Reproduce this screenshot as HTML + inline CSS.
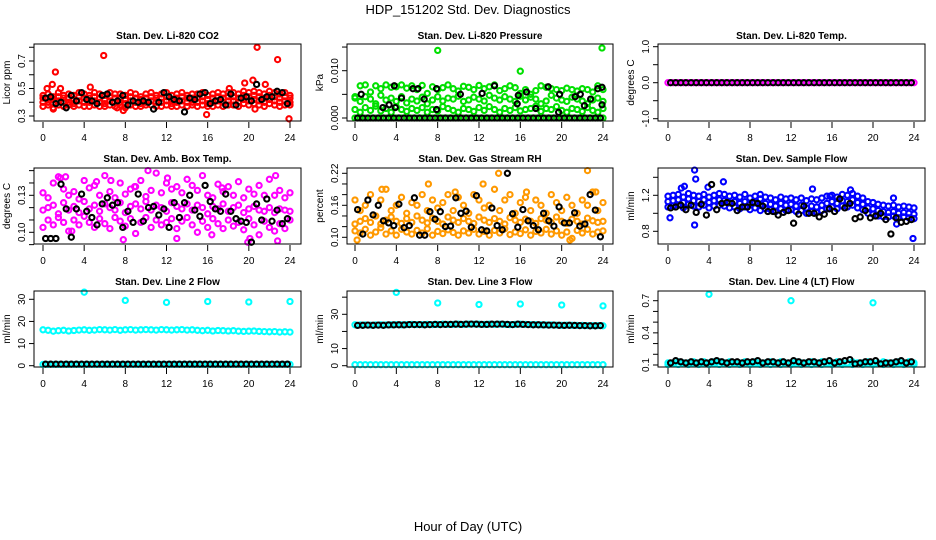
<!DOCTYPE html>
<html><head><meta charset="utf-8">
<style>
html,body{margin:0;padding:0;background:#fff;}
svg{display:block;font-family:"Liberation Sans",Arial,sans-serif;}
</style></head>
<body>
<svg id="chart" width="936" height="540" viewBox="0 0 936 540">
<text x="468" y="14" text-anchor="middle" font-size="13">HDP_151202  Std. Dev. Diagnostics</text>
<text x="468" y="531" text-anchor="middle" font-size="13">Hour of Day (UTC)</text>
</svg>
<script>
// ---------- data ----------
const xTicks = [0,4,8,12,16,20,24];
// Panel 1 CO2
const co2RedA = [0.45,0.46,0.44,0.47,0.45,0.46,0.45,0.47,0.46,0.45,0.47,0.46,0.45,0.47,0.46,0.46,0.45,0.47,0.46,0.44,0.46,0.47,0.45,0.46,0.47,0.45,0.46,0.47,0.45,0.46,0.46,0.47,0.45,0.46,0.47,0.46,0.47,0.47,0.46,0.48,0.47,0.48,0.47,0.46,0.48,0.47,0.46,0.47,0.45];
const co2RedB = [0.43,0.43,0.42,0.44,0.43,0.43,0.42,0.44,0.43,0.43,0.44,0.43,0.42,0.44,0.43,0.43,0.42,0.44,0.43,0.42,0.43,0.44,0.43,0.43,0.44,0.42,0.43,0.44,0.43,0.43,0.43,0.44,0.42,0.43,0.44,0.43,0.44,0.44,0.43,0.45,0.44,0.45,0.44,0.43,0.45,0.44,0.43,0.44,0.43];
const co2RedC = [0.40,0.40,0.39,0.41,0.40,0.40,0.39,0.41,0.40,0.40,0.41,0.40,0.39,0.41,0.40,0.40,0.39,0.41,0.40,0.39,0.40,0.41,0.40,0.40,0.41,0.39,0.40,0.41,0.40,0.40,0.40,0.41,0.39,0.40,0.41,0.40,0.41,0.41,0.40,0.42,0.41,0.42,0.41,0.40,0.42,0.41,0.40,0.41,0.40];
const co2RedD = [0.37,0.38,0.36,0.38,0.37,0.38,0.37,0.38,0.37,0.37,0.38,0.37,0.37,0.38,0.37,0.38,0.36,0.38,0.37,0.37,0.38,0.38,0.37,0.37,0.38,0.37,0.37,0.38,0.37,0.38,0.37,0.38,0.37,0.37,0.38,0.37,0.38,0.38,0.37,0.39,0.38,0.39,0.38,0.37,0.39,0.38,0.37,0.38,0.38];
const co2RedOut = [[1.2,0.62],[0.9,0.53],[5.9,0.74],[20.8,0.80],[22.8,0.71],[23.9,0.28],[15.9,0.31],[20.4,0.56],[19.6,0.54],[20.6,0.35],[7.8,0.34],[1.0,0.35],[4.6,0.51],[0.4,0.50],[18.1,0.50],[21.6,0.53],[1.7,0.50],[7.2,0.36]];
const co2Black = [0.43,0.44,0.39,0.40,0.36,0.45,0.41,0.47,0.42,0.41,0.39,0.45,0.46,0.40,0.41,0.45,0.38,0.41,0.40,0.41,0.40,0.35,0.40,0.47,0.44,0.42,0.41,0.33,0.43,0.42,0.46,0.47,0.39,0.41,0.42,0.38,0.46,0.38,0.43,0.44,0.41,0.53,0.42,0.44,0.44,0.48,0.47,0.39];
// Panel 2 Pressure
const prZero = [0,0,0,0,0,0,0,0,0,0,0,0,0,0,0,0,0,0,0,0,0,0,0,0,0,0,0,0,0,0,0,0,0,0,0,0,0,0,0,0,0,0,0,0,0,0,0,0,0];
const prGreenA = [0.0045,0.0068,0.0070,0.0055,0.0068,0.0062,0.0070,0.0065,0.0066,0.0070,0.0063,0.0068,0.0060,0.0069,0.0052,0.0066,0.0060,0.0064,0.0070,0.0062,0.0057,0.0067,0.0065,0.0060,0.0069,0.0062,0.0066,0.0070,0.0058,0.0062,0.0068,0.0064,0.0052,0.0060,0.0050,0.0058,0.0068,0.0065,0.0062,0.0060,0.0058,0.0063,0.0060,0.0057,0.0062,0.0060,0.0055,0.0068,0.0060];
const prGreenB = [0.0042,0.0035,0.0045,0.0040,0.0030,0.0048,0.0038,0.0042,0.0035,0.0045,0.0032,0.0040,0.0036,0.0044,0.0030,0.0038,0.0045,0.0036,0.0042,0.0040,0.0046,0.0035,0.0038,0.0044,0.0040,0.0036,0.0048,0.0042,0.0038,0.0045,0.0040,0.0035,0.0046,0.0038,0.0044,0.0040,0.0030,0.0036,0.0048,0.0042,0.0038,0.0035,0.0044,0.0040,0.0036,0.0030,0.0038,0.0042,0.0035];
const prGreenC = [0.0018,0.0012,0.0022,0.0016,0.0025,0.0015,0.0020,0.0012,0.0024,0.0018,0.0014,0.0020,0.0016,0.0022,0.0012,0.0018,0.0015,0.0024,0.0020,0.0016,0.0012,0.0020,0.0018,0.0014,0.0022,0.0016,0.0024,0.0018,0.0012,0.0020,0.0016,0.0022,0.0015,0.0018,0.0020,0.0025,0.0014,0.0020,0.0018,0.0024,0.0016,0.0012,0.0020,0.0018,0.0014,0.0022,0.0016,0.0012,0.0020];
const prGreenOut = [[8.0,0.0143],[23.9,0.0148],[16.0,0.0099]];
const prBlackZero = [0,0,0,0,0,0,0,0,0,0,0,0,0,0,0,0,0,0,0,0,0,0,0,0,0,0,0,0,0,0,0,0,0,0,0,0,0,0,0,0,0,0,0,0,0,0,0,0];
const prBlackPts = [[0.6,0.0050],[2.7,0.0022],[3.3,0.0028],[3.8,0.0068],[3.9,0.0022],[4.5,0.0042],[5.6,0.0062],[6.1,0.0062],[6.7,0.0040],[7.9,0.0018],[7.9,0.0062],[10.2,0.0050],[12.3,0.0052],[13.5,0.0068],[15.7,0.0030],[15.8,0.0048],[16.6,0.0055],[17.5,0.0020],[18.7,0.0066],[19.7,0.0012],[19.8,0.0050],[21.3,0.0045],[21.8,0.0050],[22.2,0.0026],[22.8,0.0040],[23.5,0.0062],[23.9,0.0065],[23.9,0.0028]];
// Panel 3 Temp
const tmpMag = [0,0,0,0,0,0,0,0,0,0,0,0,0,0,0,0,0,0,0,0,0,0,0,0,0,0,0,0,0,0,0,0,0,0,0,0,0,0,0,0,0,0,0,0,0,0,0,0,0];
const tmpBlack = [0,0,0,0,0,0,0,0,0,0,0,0,0,0,0,0,0,0,0,0,0,0,0,0,0,0,0,0,0,0,0,0,0,0,0,0,0,0,0,0,0,0,0,0,0,0,0,0];
// Panel 4 Amb Box Temp
const ambA = [0.132,0.128,0.140,0.145,0.135,0.130,0.133,0.127,0.142,0.136,0.138,0.130,0.146,0.133,0.128,0.140,0.131,0.135,0.137,0.142,0.129,0.134,0.148,0.132,0.140,0.135,0.137,0.132,0.143,0.138,0.134,0.146,0.130,0.128,0.139,0.133,0.137,0.130,0.141,0.128,0.135,0.131,0.138,0.130,0.143,0.130,0.134,0.128,0.132];
const ambB = [0.118,0.120,0.122,0.115,0.124,0.118,0.121,0.116,0.125,0.119,0.122,0.117,0.123,0.120,0.118,0.124,0.116,0.121,0.123,0.119,0.125,0.118,0.122,0.120,0.117,0.124,0.121,0.119,0.123,0.118,0.122,0.120,0.115,0.121,0.119,0.123,0.117,0.120,0.122,0.116,0.119,0.121,0.118,0.117,0.120,0.116,0.119,0.118,0.117];
const ambC = [0.104,0.110,0.106,0.112,0.108,0.101,0.110,0.106,0.113,0.108,0.104,0.111,0.107,0.103,0.112,0.109,0.105,0.111,0.099,0.108,0.112,0.104,0.110,0.106,0.108,0.111,0.103,0.109,0.112,0.106,0.100,0.109,0.104,0.111,0.107,0.103,0.110,0.105,0.108,0.102,0.111,0.106,0.098,0.109,0.104,0.101,0.107,0.103,0.110];
const ambMagOut = [[1.7,0.144],[2.2,0.145],[5.2,0.141],[6.6,0.142],[8.9,0.137],[10.2,0.150],[12.1,0.144],[17.4,0.136],[22.6,0.146],[7.8,0.094],[13.0,0.095],[22.8,0.093],[19.9,0.092],[16.4,0.098],[20.1,0.095],[2.8,0.101]];
const ambBlack = [0.095,0.095,0.095,0.139,0.119,0.096,0.119,0.131,0.117,0.112,0.106,0.123,0.128,0.122,0.124,0.104,0.117,0.108,0.131,0.109,0.120,0.121,0.114,0.119,0.104,0.124,0.112,0.124,0.130,0.118,0.113,0.138,0.125,0.119,0.117,0.131,0.117,0.111,0.109,0.108,0.092,0.123,0.110,0.127,0.109,0.118,0.107,0.111];
// Panel 5 Gas Stream RH
const rhA = [0.170,0.150,0.160,0.180,0.140,0.170,0.190,0.150,0.160,0.175,0.145,0.165,0.160,0.180,0.150,0.170,0.155,0.165,0.180,0.150,0.175,0.160,0.145,0.180,0.170,0.155,0.160,0.190,0.150,0.170,0.180,0.145,0.165,0.175,0.150,0.170,0.160,0.145,0.180,0.165,0.150,0.175,0.160,0.145,0.170,0.160,0.185,0.150,0.165];
const rhB = [0.125,0.130,0.135,0.128,0.140,0.125,0.132,0.138,0.130,0.126,0.135,0.128,0.140,0.132,0.127,0.136,0.130,0.125,0.138,0.132,0.128,0.135,0.130,0.126,0.138,0.132,0.128,0.135,0.130,0.125,0.137,0.132,0.128,0.134,0.130,0.126,0.135,0.132,0.128,0.138,0.130,0.126,0.134,0.130,0.125,0.136,0.131,0.128,0.130];
const rhC = [0.112,0.108,0.115,0.104,0.110,0.118,0.106,0.112,0.104,0.115,0.110,0.106,0.113,0.108,0.116,0.104,0.111,0.107,0.114,0.109,0.104,0.112,0.108,0.115,0.106,0.111,0.104,0.113,0.108,0.116,0.105,0.110,0.107,0.114,0.104,0.111,0.108,0.115,0.106,0.112,0.104,0.110,0.098,0.113,0.108,0.115,0.106,0.110,0.112];
const rhOrangeOut = [[2.6,0.19],[7.1,0.20],[12.4,0.20],[13.9,0.22],[22.5,0.225],[0.2,0.095],[20.8,0.095],[9.7,0.185],[16.6,0.185],[23.3,0.185]];
const rhBlack = [0.152,0.106,0.170,0.142,0.160,0.131,0.127,0.122,0.162,0.118,0.122,0.174,0.104,0.104,0.148,0.134,0.148,0.120,0.121,0.174,0.145,0.149,0.119,0.178,0.114,0.112,0.155,0.122,0.114,0.220,0.144,0.119,0.152,0.131,0.122,0.114,0.145,0.131,0.121,0.157,0.127,0.127,0.146,0.121,0.125,0.180,0.151,0.101];
// Panel 6 Sample Flow
const sfA = [1.19,1.20,1.21,1.18,1.22,1.20,1.19,1.21,1.18,1.20,1.22,1.21,1.19,1.20,1.18,1.21,1.17,1.19,1.16,1.18,1.17,1.15,1.18,1.16,1.17,1.15,1.17,1.14,1.16,1.15,1.17,1.19,1.20,1.18,1.21,1.20,1.22,1.19,1.17,1.13,1.12,1.10,1.09,1.08,1.09,1.07,1.08,1.07,1.06];
const sfB = [1.13,1.14,1.15,1.12,1.16,1.14,1.13,1.15,1.12,1.14,1.15,1.14,1.12,1.13,1.11,1.13,1.10,1.12,1.09,1.11,1.10,1.08,1.11,1.09,1.10,1.08,1.09,1.06,1.08,1.07,1.09,1.11,1.13,1.11,1.14,1.13,1.15,1.12,1.10,1.06,1.05,1.03,1.02,1.01,1.02,1.00,1.01,1.00,0.99];
const sfC = [1.07,1.08,1.09,1.06,1.10,1.08,1.07,1.09,1.06,1.08,1.09,1.08,1.06,1.07,1.05,1.07,1.04,1.06,1.03,1.05,1.04,1.02,1.05,1.03,1.04,1.02,1.03,1.00,1.02,1.01,1.03,1.05,1.07,1.05,1.08,1.07,1.09,1.06,1.04,1.00,0.99,0.97,0.96,0.96,0.97,0.95,0.96,0.95,0.94];
const sfBlueOut = [[2.6,1.48],[2.7,1.38],[5.4,1.35],[2.6,0.87],[0.2,0.95],[23.9,0.72],[22.0,1.17],[14.1,1.27],[3.9,1.29],[1.6,1.30],[1.3,1.28],[22.3,0.88],[17.8,1.26],[9.0,1.21],[15.8,1.19]];
const sfBlack = [1.06,1.07,1.09,1.04,1.09,1.01,1.10,0.98,1.32,1.04,1.11,1.12,1.11,1.03,1.07,1.07,1.12,1.11,1.08,1.02,1.02,0.98,1.01,1.03,0.89,0.99,1.08,1.00,1.00,0.96,0.99,1.05,1.02,1.16,1.06,1.11,0.94,0.96,1.03,0.95,0.97,1.00,0.93,0.77,0.95,0.90,0.91,0.93];
// Panel 7 Line 2 Flow
const l2Cyan = [16.2,16.0,15.6,15.8,16.0,15.7,15.9,16.1,16.2,16.0,16.1,16.3,16.2,16.1,16.3,16.0,16.2,16.3,16.1,16.2,16.3,16.2,16.1,16.3,16.2,16.1,16.2,16.3,16.1,16.2,16.0,15.8,16.0,15.7,15.9,15.8,15.7,15.8,15.6,15.5,15.6,15.7,15.5,15.4,15.3,15.4,15.2,15.3,15.2];
const l2CyanLow = [0.6,0.6,0.6,0.6,0.6,0.6,0.6,0.6,0.6,0.6,0.6,0.6,0.6,0.6,0.6,0.6,0.6,0.6,0.6,0.6,0.6,0.6,0.6,0.6,0.6,0.6,0.6,0.6,0.6,0.6,0.6,0.6,0.6,0.6,0.6,0.6,0.6,0.6,0.6,0.6,0.6,0.6,0.6,0.6,0.6,0.6,0.6,0.6,0.6];
const l2Black = [0.7,0.7,0.7,0.7,0.7,0.7,0.7,0.7,0.7,0.7,0.7,0.7,0.7,0.7,0.7,0.7,0.7,0.7,0.7,0.7,0.7,0.7,0.7,0.7,0.7,0.7,0.7,0.7,0.7,0.7,0.7,0.7,0.7,0.7,0.7,0.7,0.7,0.7,0.7,0.7,0.7,0.7,0.7,0.7,0.7,0.7,0.7,0.7];
const l2CyanOut = [[4,33.2],[8,29.5],[12,28.6],[16,29.0],[20,28.8],[24,29.0]];
// Panel 8 Line 3 Flow
const l3CyanLow = [0.6,0.6,0.6,0.6,0.6,0.6,0.6,0.6,0.6,0.6,0.6,0.6,0.6,0.6,0.6,0.6,0.6,0.6,0.6,0.6,0.6,0.6,0.6,0.6,0.6,0.6,0.6,0.6,0.6,0.6,0.6,0.6,0.6,0.6,0.6,0.6,0.6,0.6,0.6,0.6,0.6,0.6,0.6,0.6,0.6,0.6,0.6,0.6,0.6];
const l3CyanHigh = [23.9,23.8,23.8,23.7,23.8,23.9,23.8,23.9,24.0,23.9,24.0,24.1,24.0,24.0,24.1,24.0,24.1,24.2,24.1,24.1,24.2,24.1,24.2,24.3,24.2,24.1,24.2,24.1,24.2,24.1,24.0,24.1,24.2,24.1,24.0,24.0,23.9,23.8,23.8,23.7,23.6,23.7,23.6,23.5,23.5,23.4,23.4,23.4,23.3];
const l3Black = [23.5,23.6,23.7,23.6,23.7,23.6,23.8,23.8,23.9,23.8,24.0,24.0,24.0,23.9,24.0,24.1,24.0,24.1,24.1,24.2,24.1,24.2,24.3,24.2,24.1,24.1,24.2,24.2,24.3,24.1,24.0,24.2,24.1,24.0,23.9,23.9,23.8,23.7,23.7,23.6,23.5,23.6,23.5,23.4,23.4,23.3,23.3,23.4];
const l3CyanOut = [[4,42.8],[8,36.6],[12,35.7],[16,36.0],[20,35.4],[24,34.9]];
// Panel 9 Line 4 Flow
const l4CyanA = [0.12,0.12,0.13,0.12,0.12,0.13,0.12,0.13,0.12,0.13,0.13,0.12,0.13,0.12,0.12,0.13,0.12,0.13,0.12,0.12,0.13,0.12,0.13,0.12,0.12,0.13,0.12,0.12,0.13,0.12,0.13,0.12,0.12,0.13,0.12,0.12,0.13,0.12,0.12,0.13,0.12,0.12,0.13,0.12,0.12,0.13,0.12,0.13,0.12];
const l4CyanB = [0.105,0.11,0.105,0.11,0.105,0.11,0.105,0.11,0.105,0.11,0.105,0.11,0.105,0.11,0.105,0.11,0.105,0.11,0.105,0.11,0.105,0.11,0.105,0.11,0.105,0.11,0.105,0.11,0.105,0.11,0.105,0.11,0.105,0.11,0.105,0.11,0.105,0.11,0.105,0.11,0.105,0.11,0.105,0.11,0.105,0.11,0.105,0.11,0.105];
const l4Black = [0.12,0.14,0.13,0.12,0.13,0.12,0.13,0.12,0.13,0.14,0.13,0.12,0.13,0.13,0.12,0.13,0.13,0.14,0.12,0.13,0.13,0.12,0.13,0.12,0.14,0.13,0.12,0.13,0.13,0.12,0.13,0.14,0.12,0.13,0.14,0.15,0.11,0.12,0.13,0.13,0.14,0.11,0.12,0.12,0.13,0.14,0.12,0.13];
const l4CyanOut = [[4,0.76],[12,0.70],[20,0.68]];

// ---------- layout ----------
const cols = [{l:34,r:301,x0:43,x1:290},{l:347,r:613,x0:355,x1:603},{l:658,r:925,x0:668,x1:914}];
const rows = [{t:44,b:121,ty:35},{t:168,b:244,ty:158},{t:291,b:367,ty:281}];
const NS = 'http://www.w3.org/2000/svg';
const svg = document.getElementById('chart');
function mk(tag, attrs, parent){const e=document.createElementNS(NS,tag);for(const k in attrs)e.setAttribute(k,attrs[k]);(parent||svg).appendChild(e);return e;}

function panel(ci, ri, title, ylab, yA, pA, yB, pB, ticks, labels, slug, series){
  const c=cols[ci], r=rows[ri];
  const g=mk('g',{});
  
  
  const xs=h=>c.x0+(c.x1-c.x0)*h/24;
  const ys=v=>pA+(pB-pA)*(v-yA)/(yB-yA);
  const tt=mk('text',{x:(c.l+c.r)/2,y:r.ty+4,'text-anchor':'middle','font-size':10,'font-weight':'bold'},g);
  tt.textContent=title;
  
  
  const pg=mk('g',{},g);
  
  
  series.forEach(s=>{
    s.data.forEach((d,i)=>{
      let h,v;
      if(Array.isArray(d)){h=d[0];v=d[1];}
      else if(s.mode==='half'){h=0.25+i*0.5;v=d;}
      else {h=i*24/(s.data.length-1);v=d;}
      const cy=ys(v);
      if(cy<r.t-2||cy>r.b+2)return;
      const e=mk('circle',{cx:xs(h).toFixed(1),cy:cy.toFixed(1),r:2.6,fill:'none',stroke:s.color,'stroke-width':2.1},pg);
      
      
    });
  });
  const bx=mk('rect',{x:c.l,y:r.t,width:c.r-c.l,height:r.b-r.t,fill:'none',stroke:'#000','stroke-width':1},g);
  
  
  xTicks.forEach(h=>{
    mk('line',{x1:xs(h),x2:xs(h),y1:r.b+1,y2:r.b+7,stroke:'#000'},g);
    const t=mk('text',{x:xs(h),y:r.b+20,'text-anchor':'middle','font-size':10},g);
    t.textContent=h;
    
    
  });
  ticks.forEach((v,i)=>{
    const y=ys(v);
    mk('line',{x1:c.l-5,x2:c.l,y1:y,y2:y,stroke:'#000'},g);
    if(labels[i]){
      const t=mk('text',{x:c.l-9,y:y,'text-anchor':'middle','font-size':10,transform:`rotate(-90 ${c.l-9} ${y})`},g);
      t.textContent=labels[i];
      
      
    }
  });
  const yl=mk('text',{x:c.l-24,y:(r.t+r.b)/2,'text-anchor':'middle','font-size':10,transform:`rotate(-90 ${c.l-24} ${(r.t+r.b)/2})`},g);
  yl.textContent=ylab;
  
  
}

const RED='#ff0000',GRN='#00e000',MAG='#ff00ff',ORG='#ff9900',BLU='#0000ff',CYN='#00ffff',BLK='#000000';
panel(0,0,'Stan. Dev. Li-820 CO2','Licor ppm',0.3,116,0.7,61,[0.3,0.4,0.5,0.6,0.7,0.8],['0.3','','0.5','','0.7',''],'co2',[
 {data:co2RedA,color:RED,name:'co2-point'},{data:co2RedB,color:RED,name:'co2-point'},{data:co2RedC,color:RED,name:'co2-point'},{data:co2RedD,color:RED,name:'co2-point'},
 {data:co2RedOut,color:RED,name:'co2-outlier'},{data:co2Black,color:BLK,mode:'half',name:'co2-black-point'}]);
panel(1,0,'Stan. Dev. Li-820 Pressure','kPa',0,118,0.01,70.7,[0,0.005,0.01,0.015],['0.000','','0.010',''],'pressure',[
 {data:prZero,color:GRN,name:'pressure-point'},{data:prGreenA,color:GRN,name:'pressure-point'},{data:prGreenB,color:GRN,name:'pressure-point'},{data:prGreenC,color:GRN,name:'pressure-point'},
 {data:prGreenOut,color:GRN,name:'pressure-outlier'},{data:prBlackZero,color:BLK,mode:'half',name:'pressure-black-point'},{data:prBlackPts,color:BLK,name:'pressure-black-point'}]);
panel(2,0,'Stan. Dev. Li-820 Temp.','degrees C',0,82.7,1,46.7,[-1,-0.5,0,0.5,1],['-1.0','','0.0','','1.0'],'temp',[
 {data:tmpMag,color:MAG,name:'temp-point'},{data:tmpBlack,color:BLK,mode:'half',name:'temp-black-point'}]);
panel(0,1,'Stan. Dev. Amb. Box Temp.','degrees C',0.10,232.3,0.13,195.3,[0.09,0.10,0.11,0.12,0.13,0.14,0.15],['','0.10','','','0.13','',''],'ambtemp',[
 {data:ambA,color:MAG,name:'ambtemp-point'},{data:ambB,color:MAG,name:'ambtemp-point'},{data:ambC,color:MAG,name:'ambtemp-point'},
 {data:ambMagOut,color:MAG,name:'ambtemp-outlier'},{data:ambBlack,color:BLK,mode:'half',name:'ambtemp-black-point'}]);
panel(1,1,'Stan. Dev. Gas Stream RH','percent',0.10,237.3,0.22,173.3,[0.10,0.12,0.14,0.16,0.18,0.20,0.22],['0.10','','','0.16','','','0.22'],'rh',[
 {data:rhA,color:ORG,name:'rh-point'},{data:rhB,color:ORG,name:'rh-point'},{data:rhC,color:ORG,name:'rh-point'},
 {data:rhOrangeOut,color:ORG,name:'rh-outlier'},{data:rhBlack,color:BLK,mode:'half',name:'rh-black-point'}]);
panel(2,1,'Stan. Dev. Sample Flow','ml/min',0.8,231.3,1.2,195.3,[0.8,1.0,1.2,1.4],['0.8','','1.2',''],'sampleflow',[
 {data:sfA,color:BLU,name:'sampleflow-point'},{data:sfB,color:BLU,name:'sampleflow-point'},{data:sfC,color:BLU,name:'sampleflow-point'},
 {data:sfBlueOut,color:BLU,name:'sampleflow-outlier'},{data:sfBlack,color:BLK,mode:'half',name:'sampleflow-black-point'}]);
panel(0,2,'Stan. Dev. Line 2 Flow','ml/min',0,365.7,30,299.3,[0,10,20,30],['0','10','20','30'],'line2',[
 {data:l2Cyan,color:CYN,name:'line2-point'},{data:l2CyanLow,color:CYN,name:'line2-point'},
 {data:l2CyanOut,color:CYN,name:'line2-outlier'},{data:l2Black,color:BLK,mode:'half',name:'line2-black-point'}]);
panel(1,2,'Stan. Dev. Line 3 Flow','ml/min',0,365.7,30,314.3,[0,10,20,30,40],['0','10','','30',''],'line3',[
 {data:l3CyanLow,color:CYN,name:'line3-point'},{data:l3CyanHigh,color:CYN,name:'line3-point'},
 {data:l3CyanOut,color:CYN,name:'line3-outlier'},{data:l3Black,color:BLK,mode:'half',name:'line3-black-point'}]);
panel(2,2,'Stan. Dev. Line 4 (LT) Flow','ml/min',0.1,365,0.7,300.7,[0.1,0.2,0.3,0.4,0.5,0.6,0.7],['0.1','','','0.4','','','0.7'],'line4',[
 {data:l4CyanA,color:CYN,name:'line4-point'},{data:l4CyanB,color:CYN,name:'line4-point'},
 {data:l4CyanOut,color:CYN,name:'line4-outlier'},{data:l4Black,color:BLK,mode:'half',name:'line4-black-point'}]);
</script>
</body></html>
